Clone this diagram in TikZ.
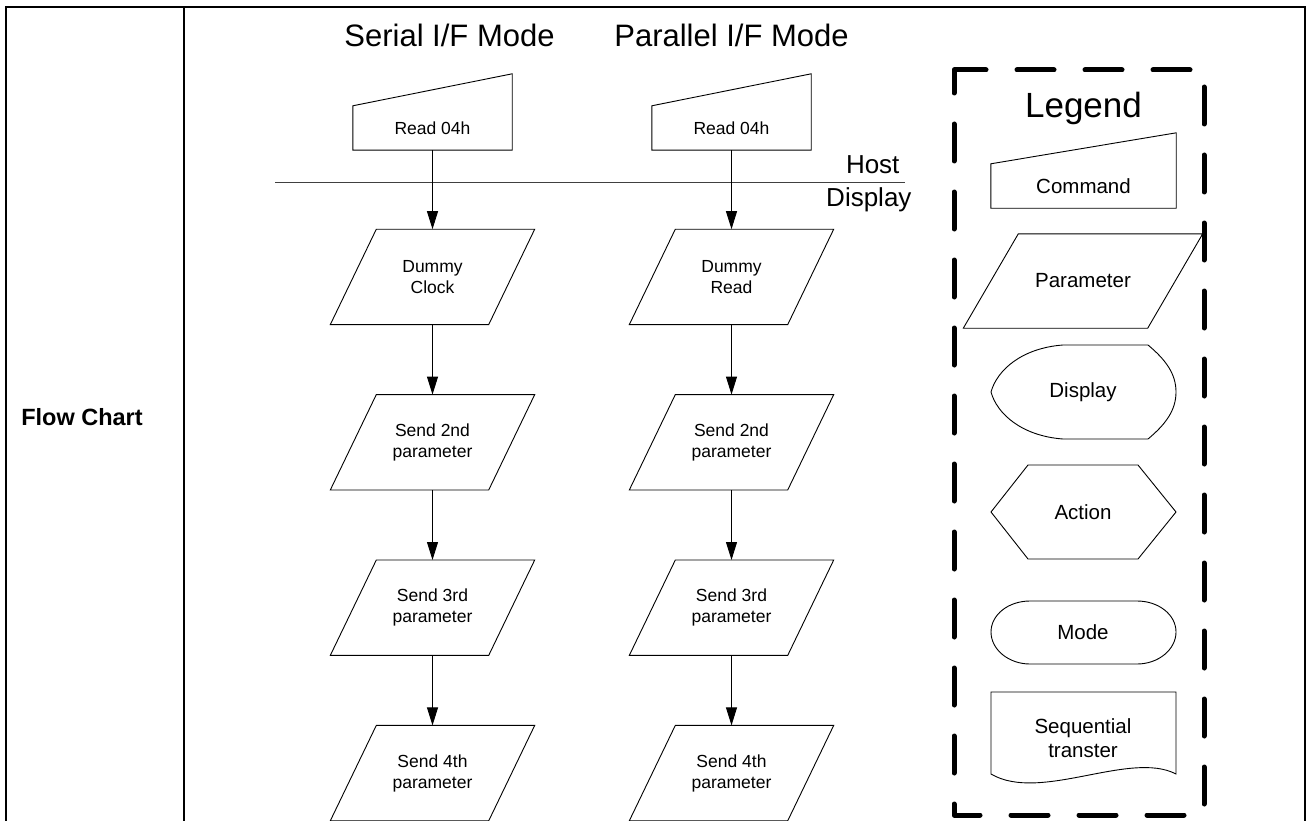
\documentclass[tikz,border=0pt]{standalone}
\usepackage{fontspec}
\setmainfont{Liberation Sans}
\usetikzlibrary{shapes.geometric, arrows.meta, positioning, calc}

\begin{document}
\begin{tikzpicture}[
  x=1pt, y=-1pt,
  font=\fontsize{17.5}{21}\selectfont, node distance=70pt,
  frame/.style={line width=2.6pt},
  shp/.style={line width=0.9pt},
  cmd/.style={rectangle, minimum width=159pt, minimum height=44pt, inner sep=0pt, align=center},
  par/.style={rectangle, minimum width=158pt, minimum height=95pt, inner sep=0pt, align=center},
  arr/.style={-{Triangle[length=18pt,width=11pt]}, line width=0.9pt},
  lgtext/.style={font=\fontsize{20.5}{24}\selectfont, align=center},
]
\useasboundingbox (0,0) rectangle (1308,821);

% table frame
\draw[frame] (6,840) -- (6,7) -- (1305,7) -- (1305,840);
\draw[frame] (184,7) -- (184,840);
\node[font=\bfseries\fontsize{23.5}{28}\selectfont] (fc) at (82,417) {Flow Chart};

% titles
\node[anchor=base, font=\fontsize{31}{36}\selectfont] (serT) at (449.5,47) {Serial I/F Mode};
\node[anchor=base, font=\fontsize{31}{36}\selectfont] (parT) at (731.5,47) {Parallel I/F Mode};

% host / display border
\draw[black!75, line width=0.9pt] (275,182) coordinate (hlA) -- (905,182) coordinate (hlB);
\node[anchor=base east, font=\fontsize{26}{30}\selectfont] (host) at (903,174) {Host};
\node[anchor=base east, font=\fontsize{26}{30}\selectfont] (disp) at (915,207) {Display};

% serial column
\node[cmd] (rdS) at (432.5,128) {Read 04h};
\node[par, below=79pt of rdS] (dcS) {Dummy\\Clock};
\node[par, below=of dcS] (s2S) {Send 2nd\\parameter};
\node[par, below=of s2S] (s3S) {Send 3rd\\parameter};
\node[par, below=of s3S] (s4S) {Send 4th\\parameter};

% parallel column
\node[cmd] (rdP) at (731.5,128) {Read 04h};
\node[par, below=79pt of rdP] (dcP) {Dummy\\Read};
\node[par, below=of dcP] (s2P) {Send 2nd\\parameter};
\node[par, below=of s2P] (s3P) {Send 3rd\\parameter};
\node[par, below=of s3P] (s4P) {Send 4th\\parameter};

\foreach \a/\b in {rdS/dcS, dcS/s2S, s2S/s3S, s3S/s4S, rdP/dcP, dcP/s2P, s2P/s3P, s3P/s4P}
  \draw[arr] (\a) -- (\b);

% legend
\draw[line width=5pt, line cap=round, line join=round, dash pattern=on 37pt off 31pt]
  (954,75) -- (954,70) -- (1204,70) -- (1204,815) -- (954,815) -- cycle;
\node[anchor=base, font=\fontsize{35}{40}\selectfont] (lgTitle) at (1083.5,118) {Legend};
\node[cmd, lgtext, minimum width=185pt] (lgCmd) at (1083.5,186) {Command};
\node[par, lgtext, minimum width=184pt, minimum height=94pt] (lgPar) at (1083,281) {Parameter};

% command outlines (slanted top)
\foreach \n/\h in {rdS/32, rdP/32, lgCmd/31}
  \draw[shp] (\n.north west) -- (\n.south west) -- (\n.south east) -- ($(\n.north east)+(0,-\h)$) -- cycle;

% parameter outlines (parallelograms)
\foreach \n/\s in {dcS/23, s2S/23, s3S/23, s4S/23, dcP/23, s2P/23, s3P/23, s4P/23, lgPar/27.5}
  \draw[shp] ([xshift=\s pt]\n.north west) -- ([xshift=\s pt]\n.north east)
    -- ([xshift=-\s pt]\n.south east) -- ([xshift=-\s pt]\n.south west) -- cycle;

\draw[shp] (1063,345) .. controls (1022,348) and (997,370) .. (991,392)
  .. controls (997,414) and (1022,436) .. (1063,439) -- (1148,439)
  .. controls (1166,424) and (1176,410) .. (1176,392)
  .. controls (1176,374) and (1166,360) .. (1148,345) -- cycle;
\node[lgtext] (lgDisp) at (1083,392) {Display};

\draw[shp] (991,512) -- (1028,465) -- (1138,465) -- (1176,512) -- (1138,559) -- (1028,559) -- cycle;
\node[lgtext] (lgAct) at (1083,512) {Action};

\draw[shp] (1030,601) -- (1137,601) .. controls (1158.5,601) and (1176,614.6) .. (1176,632)
  .. controls (1176,649.4) and (1158.5,664) .. (1137,664) -- (1030,664)
  .. controls (1008.5,664) and (991,649.4) .. (991,632)
  .. controls (991,614.6) and (1008.5,601) .. (1030,601) -- cycle;
\node[lgtext] (lgMode) at (1083,632) {Mode};

\draw[shp] (991,692) -- (1176,692) -- (1176,774) .. controls (1130,750) and (1040,803) .. (991,774) -- cycle;
\node[lgtext] (lgSeq) at (1083,738) {Sequential\\transter};
\end{tikzpicture}
\end{document}
